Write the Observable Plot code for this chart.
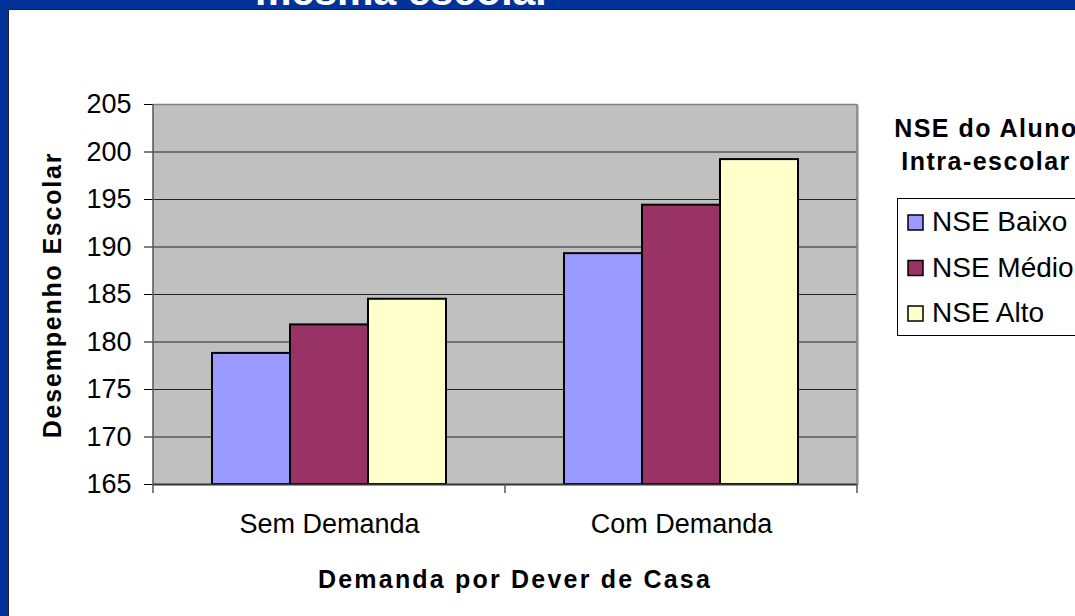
<!DOCTYPE html>
<html>
<head>
<meta charset="utf-8">
<script src="https://cdn.jsdelivr.net/npm/d3@7"></script>
<script src="https://cdn.jsdelivr.net/npm/@observablehq/plot@0.6"></script>
<style>
  html, body { margin: 0; padding: 0; }
  body { width: 1075px; height: 616px; overflow: hidden; position: relative; background: #003399; font-family: "Liberation Sans", Arial, sans-serif; }
  #panel { position: absolute; left: 8px; top: 9px; width: 1067px; height: 607px; background: #fff; box-sizing: border-box; border-left: 1px solid #222; border-top: 1px solid #222; }
  #chart { position: absolute; left: 0; top: 0; }
  #overlay { position: absolute; left: 0; top: 0; pointer-events: none; }
</style>
</head>
<body>
<div id="panel"></div>
<div id="chart"></div>
<svg id="overlay" width="1075" height="616"></svg>
<script>
const pageTitle = "mesma escola.";
const yTitle = "Desempenho Escolar";
const xTitle = "Demanda por Dever de Casa";
const legendTitle = ["NSE do Aluno", "Intra-escolar"];
const categories = ["Sem Demanda", "Com Demanda"];
const series = ["NSE Baixo", "NSE Médio", "NSE Alto"];
const semDemanda = [178.8, 181.8, 184.5];
const comDemanda = [189.3, 194.4, 199.2];
const yTicks = [165, 170, 175, 180, 185, 190, 195, 200, 205];
const colors = ["#9999ff", "#993366", "#ffffcc"];

const valuesByCat = [semDemanda, comDemanda];
const data = categories.flatMap((c, i) => series.map((s, j) => ({cat: c, nse: s, value: valuesByCat[i][j]})));
const yMin = yTicks[0], yMax = yTicks[yTicks.length - 1];

const plot = Plot.plot({
  width: 1075,
  height: 616,
  marginLeft: 152,
  marginRight: 218,
  marginTop: 104,
  marginBottom: 132,
  style: {background: "transparent", fontFamily: "'Liberation Sans', Arial, sans-serif", fontSize: "27px", color: "#000"},
  facet: {data, x: "cat"},
  fx: {domain: categories, padding: 0, axis: "bottom", label: null, tickSize: 0, tickPadding: 29},
  x: {domain: series, paddingInner: 0, paddingOuter: 0.745, axis: null},
  y: {domain: [yMin, yMax], ticks: yTicks, tickSize: 9, tickPadding: 13, label: null, tickFormat: d => String(d)},
  color: {domain: series, range: colors},
  marks: [
    Plot.frame({fill: "#c0c0c0", stroke: "none", insetLeft: -1, insetRight: -1, shapeRendering: "crispEdges"}),
    Plot.ruleY(yTicks.slice(1, -1), {stroke: "#222", strokeWidth: 1}),
    Plot.ruleY([yMax], {stroke: "#808080", strokeWidth: 1.5}),
    Plot.barY(data, {x: "nse", y1: yMin, y2: "value", fill: "nse", stroke: "#000", strokeWidth: 2}),
    Plot.ruleY([yMin], {stroke: "#333", strokeWidth: 2})
  ]
});
document.getElementById("chart").appendChild(plot);

// plot-area borders and category boundary ticks, from the library's scales
const fx = plot.scale("fx");
const ys = plot.scale("y");
const svg = d3.select(plot.tagName.toLowerCase() === "svg" ? plot : plot.querySelector("svg"));
const edges = [fx.apply(categories[0]), fx.apply(categories[1]), fx.apply(categories[1]) + fx.bandwidth];
const yTop = ys.apply(yMax), yBot = ys.apply(yMin);
const g = svg.append("g");
g.append("line").attr("x1", edges[2]).attr("x2", edges[2]).attr("y1", yTop).attr("y2", yBot)
  .attr("stroke", "#808080").attr("stroke-width", 1.5);
g.append("line").attr("x1", edges[0]).attr("x2", edges[0]).attr("y1", yTop).attr("y2", yBot + 9)
  .attr("stroke", "#555").attr("stroke-width", 1.5);
edges.slice(1).forEach(e => g.append("line").attr("x1", e).attr("x2", e).attr("y1", yBot).attr("y2", yBot + 9)
  .attr("stroke", "#555").attr("stroke-width", 1.5));

// overlay texts and legend
const ov = d3.select("#overlay");
const font = "'Liberation Sans', Arial, sans-serif";
ov.append("text").attr("x", 255).attr("y", 5).attr("fill", "#fff").attr("font-family", font)
  .attr("font-weight", "bold").attr("font-size", 41).text(pageTitle);
ov.append("text").attr("transform", "translate(61,295) rotate(-90)").attr("text-anchor", "middle")
  .attr("font-family", font).attr("font-weight", "bold").attr("font-size", 25).attr("letter-spacing", 1.8).text(yTitle);
ov.append("text").attr("x", 515).attr("y", 588).attr("text-anchor", "middle")
  .attr("font-family", font).attr("font-weight", "bold").attr("font-size", 25).attr("letter-spacing", 2.2).text(xTitle);
legendTitle.forEach((t, i) => ov.append("text").attr("x", 986).attr("y", 137 + i * 33).attr("text-anchor", "middle")
  .attr("font-family", font).attr("font-weight", "bold").attr("font-size", 25).attr("letter-spacing", 1.5).text(t));
ov.append("rect").attr("x", 897.5).attr("y", 198.5).attr("width", 200).attr("height", 137)
  .attr("fill", "none").attr("stroke", "#000").attr("stroke-width", 1);
series.forEach((s, i) => {
  const base = 231 + i * 45.5;
  ov.append("rect").attr("x", 908).attr("y", base - 16).attr("width", 15).attr("height", 15)
    .attr("fill", colors[i]).attr("stroke", "#000").attr("stroke-width", 1.5);
  ov.append("text").attr("x", 932).attr("y", base).attr("font-family", font).attr("font-size", 28).text(s);
});
</script>
</body>
</html>
